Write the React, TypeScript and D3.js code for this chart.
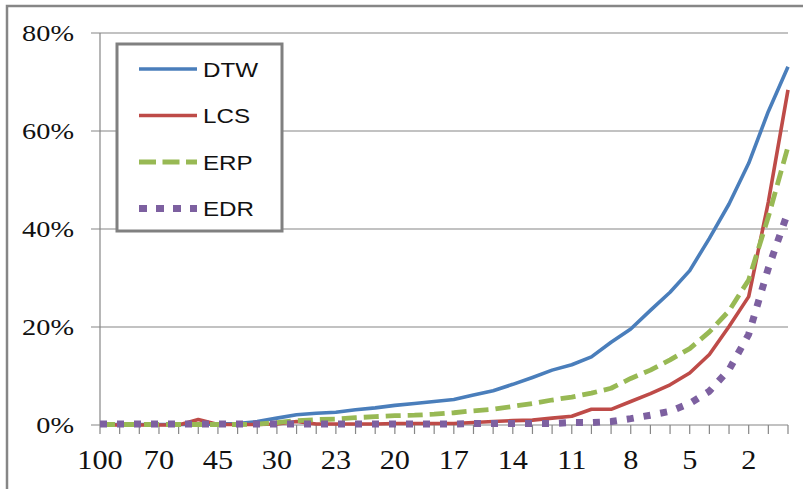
import React from 'react';
import * as d3 from 'd3';

// x categories (window size), labels shown on every 3rd tick
const categories = [
  '100', '90', '80', '70', '60', '50', '45', '40', '35', '30', '27', '25',
  '23', '22', '21', '20', '19', '18', '17', '16', '15', '14', '13', '12',
  '11', '10', '9', '8', '7', '6', '5', '4', '3', '2', '1', '0',
];

// series values in percent
const dtw = [
  0.1, 0.1, 0.1, 0.1, 0.1, 0.1, 0.2, 0.3, 0.7, 1.4, 2.1, 2.4,
  2.6, 3.1, 3.5, 4.0, 4.4, 4.8, 5.2, 6.1, 7.0, 8.3, 9.7, 11.2,
  12.3, 13.9, 16.9, 19.6, 23.4, 27.1, 31.5, 38.1, 45.1, 53.4, 64.0, 73.1,
];
const lcs = [
  0, 0, 0, 0, 0, 1.1, 0.1, 0.1, 0.1, 0.2, 0.7, 0.2,
  0.2, 0.2, 0.2, 0.3, 0.3, 0.3, 0.3, 0.5, 0.7, 0.9, 1.0, 1.4,
  1.8, 3.2, 3.2, 4.8, 6.4, 8.2, 10.6, 14.4, 20.1, 26.2, 45.5, 68.4,
];
const erp = [
  0.1, 0.1, 0.1, 0.1, 0.1, 0.1, 0.1, 0.1, 0.2, 0.5, 0.9, 1.1,
  1.2, 1.5, 1.7, 1.9, 2.0, 2.2, 2.5, 2.9, 3.2, 3.8, 4.4, 5.1,
  5.7, 6.5, 7.5, 9.5, 11.2, 13.3, 15.6, 19.0, 23.3, 29.6, 42.5, 56.8,
];
const edr = [
  0.2, 0.2, 0.2, 0.2, 0.2, 0.2, 0.2, 0.2, 0.2, 0.2, 0.2, 0.2,
  0.2, 0.2, 0.2, 0.2, 0.2, 0.2, 0.2, 0.3, 0.3, 0.3, 0.3, 0.3,
  0.5, 0.5, 0.7, 1.3, 2.0, 2.8, 4.4, 6.9, 11.3, 18.5, 32.0, 43.5,
];

const yTicks = [0, 20, 40, 60, 80];

const series = [
  { name: 'DTW', values: dtw, color: '#4A7EBB', width: 3.6, dash: '' },
  { name: 'LCS', values: lcs, color: '#BE4B48', width: 3.6, dash: '' },
  { name: 'ERP', values: erp, color: '#98B954', width: 4.8, dash: '15 7' },
  { name: 'EDR', values: edr, color: '#7D60A0', width: 7, dash: '7 10' },
];

const App = () => {
  const width = 803;
  const height = 489;
  const axisColor = '#868686';

  const x = d3.scalePoint<number>()
    .domain(d3.range(categories.length))
    .range([100, 788]);

  const y = d3.scaleLinear()
    .domain([0, 80])
    .range([425, 33]);

  const line = d3.line<number>()
    .x((d, i) => x(i) as number)
    .y((d) => y(d));

  const sx = 1.18; // text is stretched horizontally in the original

  return (
    <svg width={width} height={height}
      style={{ position: 'absolute', left: 0, top: 0, background: '#fff' }}>
      {/* chart border (only top and left visible) */}
      <path d={`M7,${height} V6 H${width}`} fill="none" stroke={axisColor} strokeWidth={2.5} />

      {/* gridlines + y ticks */}
      {yTicks.map((t) => (
        <g key={t}>
          <line x1={91} x2={788} y1={y(t)} y2={y(t)} stroke={axisColor} strokeWidth={1.2} />
          <text
            transform={`translate(74,${y(t) + 8}) scale(${sx},1)`}
            textAnchor="end"
            fontFamily="'Liberation Serif', 'Times New Roman', serif"
            fontSize={24}
            fill="#111"
          >
            {t}%
          </text>
        </g>
      ))}

      {/* y axis */}
      <line x1={100} x2={100} y1={33} y2={425} stroke={axisColor} strokeWidth={1.2} />

      {/* x axis ticks and labels */}
      {categories.map((c, i) => (
        <g key={i}>
          <line x1={x(i)} x2={x(i)} y1={425} y2={434} stroke={axisColor} strokeWidth={1.2} />
          {i % 3 === 0 && (
            <text
              transform={`translate(${x(i)},469) scale(1.08,1)`}
              textAnchor="middle"
              fontFamily="'Liberation Serif', 'Times New Roman', serif"
              fontSize={28}
              fill="#111"
            >
              {c}
            </text>
          )}
        </g>
      ))}

      {/* series lines */}
      {series.map((s) => (
        <path
          key={s.name}
          d={line(s.values) as string}
          fill="none"
          stroke={s.color}
          strokeWidth={s.width}
          strokeDasharray={s.dash || undefined}
          strokeLinejoin="round"
        />
      ))}

      {/* legend */}
      <rect x={117} y={44} width={165} height={187} fill="#fff" stroke="#808080" strokeWidth={3} />
      {series.map((s, i) => {
        const cy = 69 + i * 46.5;
        return (
          <g key={s.name}>
            <line
              x1={139} x2={197} y1={cy} y2={cy}
              stroke={s.color}
              strokeWidth={s.name === 'EDR' ? 7 : s.width}
              strokeDasharray={s.name === 'ERP' ? '17 6.5' : s.name === 'EDR' ? '8 9' : undefined}
            />
            <text
              transform={`translate(203,${cy + 7.5}) scale(${sx},1)`}
              fontFamily="'Liberation Sans', Arial, sans-serif"
              fontSize={20.5}
              fill="#111"
            >
              {s.name}
            </text>
          </g>
        );
      })}
    </svg>
  );
};

export default App;
